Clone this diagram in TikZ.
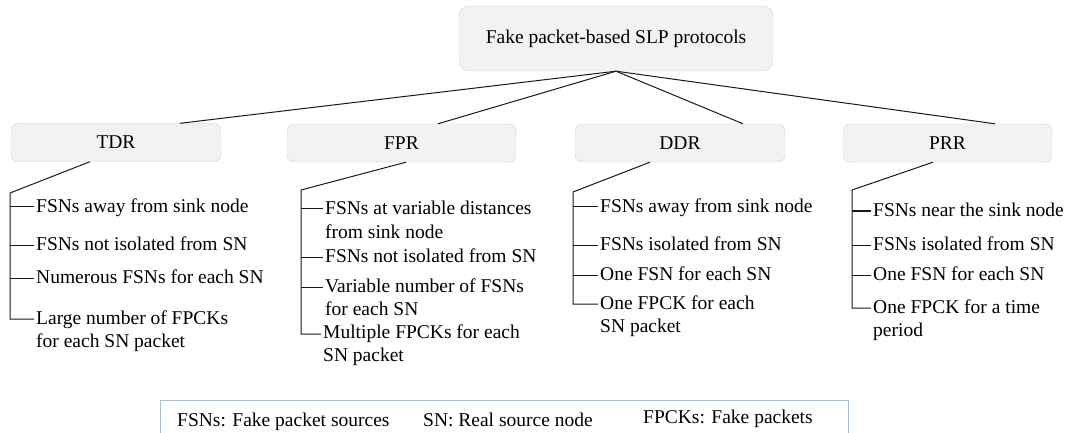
\documentclass[tikz,border=0pt]{standalone}
\usepackage{fontspec}
\setmainfont{Liberation Serif}
\definecolor{boxfill}{HTML}{F2F2F2}
\definecolor{boxline}{HTML}{D0D0D0}
\definecolor{keyline}{HTML}{9DC3E6}
\begin{document}
\begin{tikzpicture}[x=1pt, y=-1pt,
    every node/.style={font=\fontsize{19.5}{23.5}\selectfont},
    catbox/.style={draw=boxline, fill=boxfill, rounded corners=7pt, minimum height=38pt, inner sep=0pt},
    item/.style={anchor=base west, align=left, inner xsep=2pt, inner ysep=0pt},
    link/.style={draw=black!90, line width=1pt}]
    \useasboundingbox (0,0) rectangle (1077,433);

    % Root
    \node[catbox, rounded corners=10pt, minimum width=314pt, minimum height=65pt] (root) at (616,38.5) {Fake packet-based SLP protocols};

    % Categories
    \node[catbox, minimum width=210pt] (tdr) at (116,142.5) {TDR};
    \node[catbox, minimum width=229pt] (fpr) at (401.5,143) {FPR};
    \node[catbox, minimum width=210pt] (ddr) at (680,143) {DDR};
    \node[catbox, minimum width=209pt] (prr) at (947.5,143) {PRR};

    \draw[link] (root.south) -- ([xshift=64pt]tdr.north);
    \draw[link] (root.south) -- ([xshift=36.5pt]fpr.north);
    \draw[link] (root.south) -- ([xshift=63pt]ddr.north);
    \draw[link] (root.south) -- ([xshift=47.5pt]prr.north);

    % TDR column (two-line items sit on their last baseline)
    \coordinate (tdrtop) at (10,193);
    \coordinate (tdrt1) at (10,207);
    \coordinate (tdrt2) at (10,245);
    \coordinate (tdrt3) at (10,278);
    \coordinate (tdrt4) at (10,319);
    \node[item] (tdr1) at (34,212) {FSNs away from sink node};
    \node[item] (tdr2) at (34,250) {FSNs not isolated from SN};
    \node[item] (tdr3) at (34,283) {Numerous FSNs for each SN};
    \node[item] (tdr4) at (34,347.5) {Large number of FPCKs\\for each SN packet};
    \draw[link] ([xshift=-26pt]tdr.south) -- (tdrtop) -- (tdrt4) -- (tdrt4 -| tdr4.west);
    \draw[link] (tdrt1) -- (tdrt1 -| tdr1.west);
    \draw[link] (tdrt2) -- (tdrt2 -| tdr2.west);
    \draw[link] (tdrt3) -- (tdrt3 -| tdr3.west);

    % FPR column
    \coordinate (fprtop) at (301,190);
    \coordinate (fprt1) at (301,209);
    \coordinate (fprt2) at (301,257);
    \coordinate (fprt3) at (301,287);
    \coordinate (fprt4) at (301,334);
    \node[item] (fpr1) at (323,238) {FSNs at variable distances\\from sink node};
    \node[item] (fpr2) at (323,262) {FSNs not isolated from SN};
    \node[item] (fpr3) at (323,315.5) {Variable number of FSNs\\for each SN};
    \node[item] (fpr4) at (321,361.5) {Multiple FPCKs for each\\SN packet};
    \draw[link] ([xshift=4.5pt]fpr.south) -- (fprtop) -- (fprt4) -- (fprt4 -| fpr4.west);
    \draw[link] (fprt1) -- (fprt1 -| fpr1.west);
    \draw[link] (fprt2) -- (fprt2 -| fpr2.west);
    \draw[link] (fprt3) -- (fprt3 -| fpr3.west);

    % DDR column
    \coordinate (ddrtop) at (573,192);
    \coordinate (ddrt1) at (573,207);
    \coordinate (ddrt2) at (573,245);
    \coordinate (ddrt3) at (573,275);
    \coordinate (ddrt4) at (573,304);
    \node[item] (ddr1) at (598,212) {FSNs away from sink node};
    \node[item] (ddr2) at (598,250) {FSNs isolated from SN};
    \node[item] (ddr3) at (598,280) {One FSN for each SN};
    \node[item] (ddr4) at (598,332.5) {One FPCK for each\\SN packet};
    \draw[link] ([xshift=-30pt]ddr.south) -- (ddrtop) -- (ddrt4) -- (ddrt4 -| ddr4.west);
    \draw[link] (ddrt1) -- (ddrt1 -| ddr1.west);
    \draw[link] (ddrt2) -- (ddrt2 -| ddr2.west);
    \draw[link] (ddrt3) -- (ddrt3 -| ddr3.west);

    % PRR column
    \coordinate (prrtop) at (852,190);
    \coordinate (prrt1) at (852,211);
    \coordinate (prrt2) at (852,245);
    \coordinate (prrt3) at (852,275);
    \coordinate (prrt4) at (852,308);
    \node[item] (prr1) at (871,216) {FSNs near the sink node};
    \node[item] (prr2) at (871,250) {FSNs isolated from SN};
    \node[item] (prr3) at (871,280) {One FSN for each SN};
    \node[item] (prr4) at (871,336.5) {One FPCK for a time\\period};
    \draw[link] ([xshift=-14.5pt]prr.south) -- (prrtop) -- (prrt4) -- (prrt4 -| prr4.west);
    \draw[link] (prrt1) -- (prrt1 -| prr1.west);
    \draw[link] (prrt2) -- (prrt2 -| prr2.west);
    \draw[link] (prrt3) -- (prrt3 -| prr3.west);

    % Key
    \draw[keyline, line width=1pt] (160,400) rectangle (848,450);
    \node[anchor=base west, inner sep=0pt] (key1) at (177,426) {FSNs: Fake packet sources};
    \node[anchor=base west, inner sep=0pt] (key2) at (423,426) {SN: Real source node};
    \node[anchor=base west, inner sep=0pt] (key3) at (643,423) {FPCKs: Fake packets};
\end{tikzpicture}
\end{document}
